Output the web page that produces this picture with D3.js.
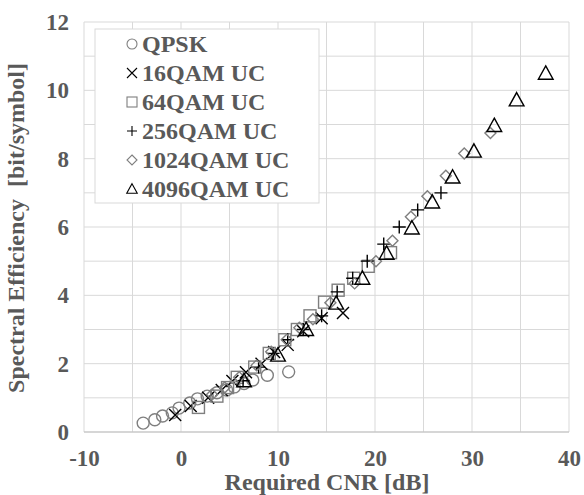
<!DOCTYPE html>
<html>
<head>
<meta charset="utf-8">
<script src="https://cdn.jsdelivr.net/npm/d3@7"></script>
<style>
  body { margin: 0; background: #fff; }
  text { font-family: "Liberation Serif", "Times New Roman", serif; font-weight: bold; fill: #595959; }
</style>
</head>
<body>
<svg width="584" height="495"></svg>
<script>
// values: [CNR dB, bit/symbol]
var qpsk = [[-3.9,0.26],[-2.7,0.36],[-1.9,0.47],[-0.9,0.56],[-0.2,0.7],[0.9,0.85],[1.7,0.97],[2.7,1.05],
            [3.7,1.15],[4.7,1.23],[5.5,1.32],[6.5,1.42],[7.4,1.52],[8.9,1.66],[11.1,1.76]];
var qam16 = [[-0.6,0.5],[1.0,0.76],[2.8,1.0],[4.2,1.23],[5.3,1.49],[6.7,1.75],[8.3,2.0],[9.6,2.34],
             [11.0,2.55],[12.6,2.95],[14.5,3.33],[16.7,3.48]];
var qam64 = [[1.8,0.72],[3.7,1.05],[4.8,1.3],[5.8,1.6],[7.6,1.9],[9.1,2.3],[10.7,2.7],[12.0,3.0],
             [13.3,3.4],[14.8,3.8],[16.2,4.15],[17.8,4.5],[19.3,4.85],[21.6,5.25]];
var qam256 = [[6.4,1.5],[8.0,1.9],[9.5,2.3],[11.0,2.7],[12.6,3.0],[14.5,3.4],[16.1,4.1],[17.7,4.5],
              [19.2,5.0],[20.9,5.5],[22.5,6.0],[24.4,6.5],[26.8,7.0]];
var qam1024 = [[3.2,1.1],[4.5,1.3],[6.0,1.6],[7.8,1.95],[9.3,2.35],[10.9,2.7],[12.2,3.05],[13.6,3.3],
               [15.4,3.78],[17.9,4.35],[20.1,5.0],[21.8,5.6],[23.7,6.3],[25.4,6.9],[27.3,7.5],
               [29.2,8.15],[31.9,8.75]];
var qam4096 = [[6.5,1.5],[10.0,2.25],[12.9,3.0],[16.0,3.77],[18.7,4.5],[21.2,5.23],[23.8,5.97],
               [25.9,6.73],[28.0,7.46],[30.2,8.22],[32.3,8.97],[34.6,9.72],[37.6,10.5]];

var seriesNames = ["QPSK", "16QAM UC", "64QAM UC", "256QAM UC", "1024QAM UC", "4096QAM UC"];
var seriesData = [qpsk, qam16, qam64, qam256, qam1024, qam4096];
var shapes = ["circle", "x", "square", "plus", "diamond", "triangle"];
var colors = ["#7f7f7f", "#000", "#7f7f7f", "#000", "#7f7f7f", "#000"];

var xTicks = [-10, 0, 10, 20, 30, 40];
var yTicks = [0, 2, 4, 6, 8, 10, 12];

var svg = d3.select("svg");
var pLeft = 84, pRight = 569, pTop = 22, pBottom = 432;

var xs = d3.scaleLinear().domain([-10, 40]).range([pLeft, pRight]);
var ys = d3.scaleLinear().domain([0, 12]).range([pBottom, pTop]);

// grid
svg.append("g").selectAll("line")
    .data(d3.range(0, 13, 1))
    .enter().append("line")
    .attr("x1", pLeft).attr("x2", pRight)
    .attr("y1", function(d){ return ys(d); }).attr("y2", function(d){ return ys(d); })
    .style("stroke", "#d9d9d9").style("stroke-width", 1);
svg.append("g").selectAll("line")
    .data(d3.range(-10, 41, 5))
    .enter().append("line")
    .attr("x1", function(d){ return xs(d); }).attr("x2", function(d){ return xs(d); })
    .attr("y1", pTop).attr("y2", pBottom)
    .style("stroke", "#d9d9d9").style("stroke-width", 1);

// bottom axis line
svg.append("line")
    .attr("x1", pLeft).attr("x2", pRight).attr("y1", pBottom).attr("y2", pBottom)
    .style("stroke", "#bfbfbf").style("stroke-width", 1.2);

// tick labels
var xAxis = d3.axisBottom(xs).tickValues(xTicks).tickSize(0).tickPadding(18)
    .tickFormat(function(d){ return String(d); });
var gx = svg.append("g").attr("transform", "translate(0," + pBottom + ")").call(xAxis);
gx.select(".domain").remove();
gx.selectAll("text").style("font-size", "23px").attr("font-family", null).attr("fill", null);

var yAxis = d3.axisLeft(ys).tickValues(yTicks).tickSize(0).tickPadding(15)
    .tickFormat(function(d){ return String(d); });
var gy = svg.append("g").attr("transform", "translate(" + pLeft + ",0)").call(yAxis);
gy.select(".domain").remove();
gy.selectAll("text").style("font-size", "23px").attr("font-family", null).attr("fill", null);

// axis titles
svg.append("text").attr("x", 327).attr("y", 490).attr("text-anchor", "middle")
    .style("font-size", "24px").text("Required CNR [dB]");
svg.append("text").attr("transform", "translate(24,228) rotate(-90)").attr("text-anchor", "middle")
    .style("font-size", "24px").style("white-space", "pre").text("Spectral Efficiency  [bit/symbol]");

function marker(g, shape, s, col) {
    var h = s / 2;
    if (shape == "circle") {
        g.append("circle").attr("r", h).style("fill", "none").style("stroke", col);
    } else if (shape == "square") {
        g.append("rect").attr("x", -h).attr("y", -h).attr("width", s).attr("height", s)
            .style("fill", "none").style("stroke", col);
    } else if (shape == "diamond") {
        g.append("path").attr("d", "M0," + (-h) + "L" + h + ",0L0," + h + "L" + (-h) + ",0Z")
            .style("fill", "none").style("stroke", col);
    } else if (shape == "triangle") {
        g.append("path").attr("d", "M0," + (-h*1.05) + "L" + (h*1.05) + "," + (h*0.85) + "L" + (-h*1.05) + "," + (h*0.85) + "Z")
            .style("fill", "none").style("stroke", col);
    } else if (shape == "x") {
        g.append("path").attr("d", "M" + (-h) + "," + (-h) + "L" + h + "," + h + "M" + h + "," + (-h) + "L" + (-h) + "," + h)
            .style("fill", "none").style("stroke", col);
    } else if (shape == "plus") {
        g.append("path").attr("d", "M" + (-h) + ",0L" + h + ",0M0," + (-h) + "L0," + h)
            .style("fill", "none").style("stroke", col);
    }
    g.selectAll("*").style("stroke-width", 1.4);
}

var sizes = [12, 12, 12, 13, 11, 14];
seriesData.forEach(function(data, i){
    var pts = svg.append("g").selectAll("g")
        .data(data)
        .enter().append("g")
        .attr("transform", function(d){ return "translate(" + xs(d[0]) + "," + ys(d[1]) + ")"; });
    pts.each(function(){ marker(d3.select(this), shapes[i], sizes[i], colors[i]); });
});

// legend
var lg = svg.append("g");
lg.append("rect").attr("x", 95).attr("y", 29).attr("width", 224).attr("height", 174)
    .style("fill", "#fff").style("stroke", "#d9d9d9");
seriesNames.forEach(function(name, i){
    var yy = 44 + i * 29;
    var m = lg.append("g").attr("transform", "translate(132," + yy + ")");
    marker(m, shapes[i], 10, colors[i]);
    m.selectAll("*").style("stroke-width", 1.1);
    lg.append("text").attr("x", 142).attr("y", yy + 8).style("font-size", "24px").text(name);
});
</script>
</body>
</html>
